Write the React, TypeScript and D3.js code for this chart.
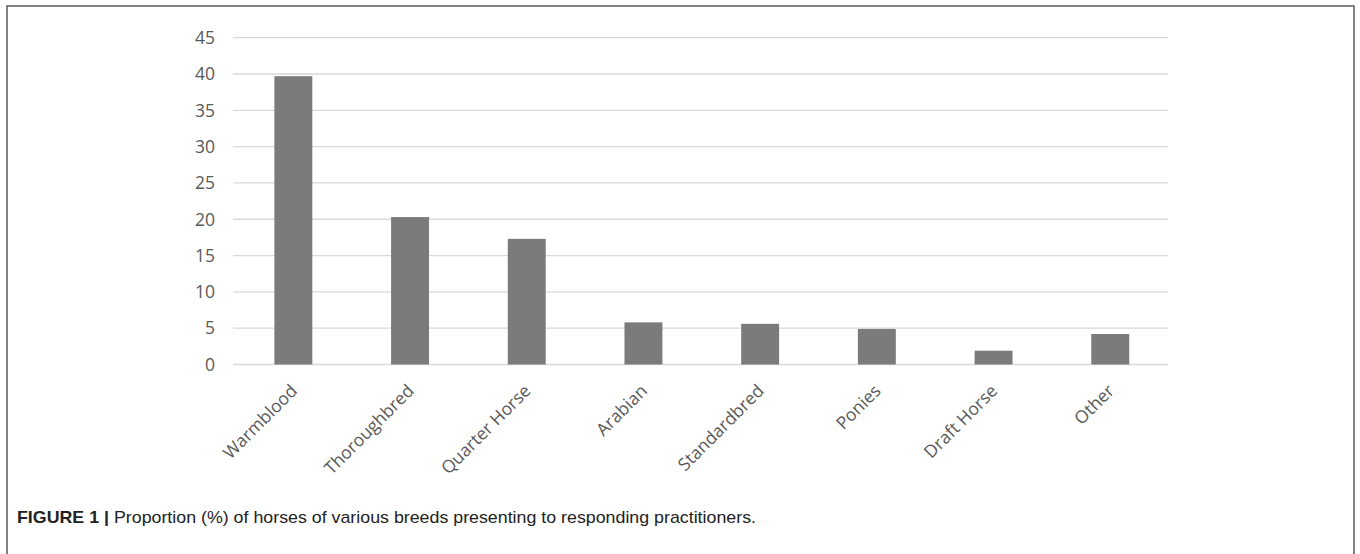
import React from "react";
import * as d3 from "d3";

const categories = ["Warmblood", "Thoroughbred", "Quarter Horse", "Arabian", "Standardbred", "Ponies", "Draft Horse", "Other"];
const values = [39.7, 20.3, 17.3, 5.8, 5.6, 4.9, 1.9, 4.2];
const yTicks = [0, 5, 10, 15, 20, 25, 30, 35, 40, 45];
const captionBold = "FIGURE 1 |";
const captionText = " Proportion (%) of horses of various breeds presenting to responding practitioners.";

const W = 1360;
const H = 554;

export default function App() {
  const x = d3.scaleBand<string>().domain(categories).range([235, 1168.6]).paddingInner(0.675).paddingOuter(0.3375);
  const y = d3.scaleLinear().domain([0, 45]).range([364.5, 37.7]);
  const font = "'Open Sans', sans-serif";
  return (
    <svg width={W} height={H} style={{ position: "absolute", left: 0, top: 0, background: "#fff" }}>
      <rect x={7} y={6} width={1347} height={H + 20} fill="none" stroke="#5a5a5a" strokeWidth={1.5} />
      {yTicks.map((t) => (
        <g key={t}>
          <line x1={233} x2={1168} y1={y(t)} y2={y(t)} stroke="#d9d9d9" strokeWidth={1.3} />
          <text x={215} y={y(t)} dy="0.36em" textAnchor="end" fontFamily={font} fontSize={17.5} fill="#595959">
            {t}
          </text>
        </g>
      ))}
      {categories.map((c, i) => (
        <rect key={c} x={x(c)} y={y(values[i])} width={x.bandwidth()} height={y(0) - y(values[i])} fill="#7b7b7b" />
      ))}
      {categories.map((c) => {
        const cx = (x(c) as number) + x.bandwidth() / 2 + 5;
        const cy = 392;
        return (
          <text key={c} transform={`translate(${cx},${cy}) rotate(-45)`} textAnchor="end" fontFamily={font} fontSize={17.5} fill="#595959">
            {c}
          </text>
        );
      })}
      <text x={17} y={523} fontFamily="'Liberation Sans', Arial, sans-serif" fontSize={17} fill="#222" textLength={739} lengthAdjust="spacingAndGlyphs">
        <tspan fontWeight="bold">{captionBold}</tspan>
        <tspan>{captionText}</tspan>
      </text>
    </svg>
  );
}
